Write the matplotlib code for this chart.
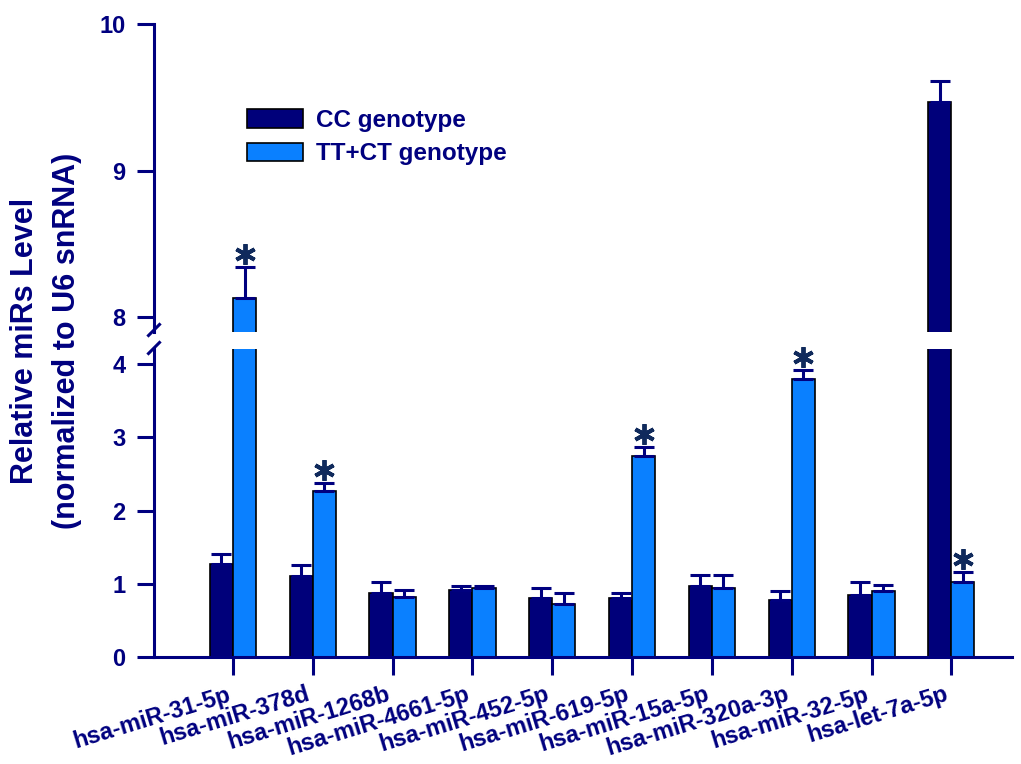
import matplotlib
matplotlib.use('Agg')
import matplotlib.pyplot as plt
import numpy as np
from matplotlib.transforms import ScaledTranslation
from matplotlib.patches import Patch
from matplotlib.lines import Line2D

plt.rcParams['font.family'] = ['Liberation Sans', 'DejaVu Sans']
plt.rcParams['font.weight'] = 'bold'

# ---- data ----
categories = ['hsa-miR-31-5p', 'hsa-miR-378d', 'hsa-miR-1268b', 'hsa-miR-4661-5p',
              'hsa-miR-452-5p', 'hsa-miR-619-5p', 'hsa-miR-15a-5p', 'hsa-miR-320a-3p',
              'hsa-miR-32-5p', 'hsa-let-7a-5p']
cc_mean = [1.27, 1.10, 0.87, 0.92, 0.81, 0.81, 0.97, 0.78, 0.84, 9.47]
cc_err = [0.14, 0.16, 0.15, 0.05, 0.13, 0.07, 0.15, 0.12, 0.18, 0.14]
tt_mean = [8.13, 2.27, 0.82, 0.94, 0.73, 2.74, 0.94, 3.80, 0.90, 1.03]
tt_err = [0.21, 0.11, 0.10, 0.03, 0.15, 0.13, 0.18, 0.12, 0.08, 0.13]
tt_sig = [True, True, False, False, False, True, False, True, False, True]
series_labels = ['CC genotype', 'TT+CT genotype']
ylabel = 'Relative miRs Level\n(normalized to U6 snRNA)'
lower_ticks = [0, 1, 2, 3, 4]
upper_ticks = [8, 9, 10]

NAVY = '#00007F'
DARK = '#00007A'
LIGHT = '#0A80FF'
STAR = '#102A5C'

W, H = 1021, 764
fig = plt.figure(figsize=(W / 100, H / 100), dpi=100)


def px_axes(x0, y0, x1, y1):
    return fig.add_axes([x0 / W, 1 - y1 / H, (x1 - x0) / W, (y1 - y0) / H])


ax_lo = px_axes(154, 349, 1012, 657)
ax_hi = px_axes(154, 24, 1012, 332)

x = np.arange(len(categories))
bw = 0.29
xlim = (-0.99, 9.76)
BREAK = 6.0

for ax in (ax_lo, ax_hi):
    ax.bar(x - bw / 2, cc_mean, bw, color=DARK, edgecolor='black', linewidth=1.2, zorder=2)
    ax.bar(x + bw / 2, tt_mean, bw, color=LIGHT, edgecolor='black', linewidth=1.2, zorder=2)
    ax.set_xlim(*xlim)
    for s in ('top', 'right'):
        ax.spines[s].set_visible(False)
    ax.spines['left'].set_color(NAVY)
    ax.spines['left'].set_linewidth(2.2)
    ax.tick_params(axis='y', length=12.6, width=2.2, color=NAVY, labelcolor=NAVY,
                   labelsize=17, pad=8)

ax_lo.set_ylim(0, 4.205)
ax_hi.set_ylim(7.898, 10)
ax_lo.set_yticks(lower_ticks)
ax_hi.set_yticks(upper_ticks)
ax_hi.spines['bottom'].set_visible(False)
ax_hi.tick_params(axis='x', bottom=False, labelbottom=False)
ax_lo.spines['bottom'].set_color(NAVY)
ax_lo.spines['bottom'].set_linewidth(2.2)
ax_lo.set_xticks(x)
ax_lo.set_xticklabels(categories, rotation=17, ha='right', va='top')
ax_lo.tick_params(axis='x', length=12.6, width=2.2, color=NAVY, labelcolor=NAVY,
                  labelsize=17, pad=6)

# error bars (upper side only)
for xs, means, errs in ((x - bw / 2, cc_mean, cc_err), (x + bw / 2, tt_mean, tt_err)):
    means = np.asarray(means)
    errs = np.asarray(errs)
    for ax, sel in ((ax_lo, means < BREAK), (ax_hi, means >= BREAK)):
        if sel.any():
            ax.errorbar(xs[sel], means[sel], yerr=[np.zeros(sel.sum()), errs[sel]],
                        fmt='none', ecolor=NAVY, elinewidth=2.2, capsize=7.5,
                        capthick=2.2, zorder=3)

# significance asterisks
star_off = ScaledTranslation(0, 13 / 100, fig.dpi_scale_trans)
for i, sig in enumerate(tt_sig):
    if not sig:
        continue
    top = tt_mean[i] + tt_err[i]
    ax = ax_hi if tt_mean[i] >= BREAK else ax_lo
    ax.plot([x[i] + bw / 2], [top], linestyle='none', marker=(6, 2, 0), ms=15, mew=2.8,
            color=STAR, transform=ax.transData + star_off, clip_on=False, zorder=4)

# axis break marks
for cy in (330, 348):
    fig.add_artist(Line2D([148.5 / W, 159.5 / W], [1 - (cy + 5.5) / H, 1 - (cy - 5.5) / H],
                          transform=fig.transFigure, color=NAVY, lw=2.2))

# y label
fig.text(46 / W, 1 - 341 / H, ylabel, rotation=90, ha='center', va='center',
         multialignment='center', fontsize=22, color=NAVY, linespacing=1.5)

# legend
handles = [Patch(facecolor=DARK, edgecolor='black', linewidth=1.2, label=series_labels[0]),
           Patch(facecolor=LIGHT, edgecolor='black', linewidth=1.2, label=series_labels[1])]
fig.legend(handles=handles, loc='upper left', bbox_to_anchor=(247 / W, 1 - 109 / H),
           bbox_transform=fig.transFigure, frameon=False, fontsize=17.5,
           handlelength=2.3, handleheight=0.78, handletextpad=0.55, labelspacing=0.42,
           borderpad=0, borderaxespad=0, labelcolor=NAVY)

fig.savefig('out.png', dpi=100)
